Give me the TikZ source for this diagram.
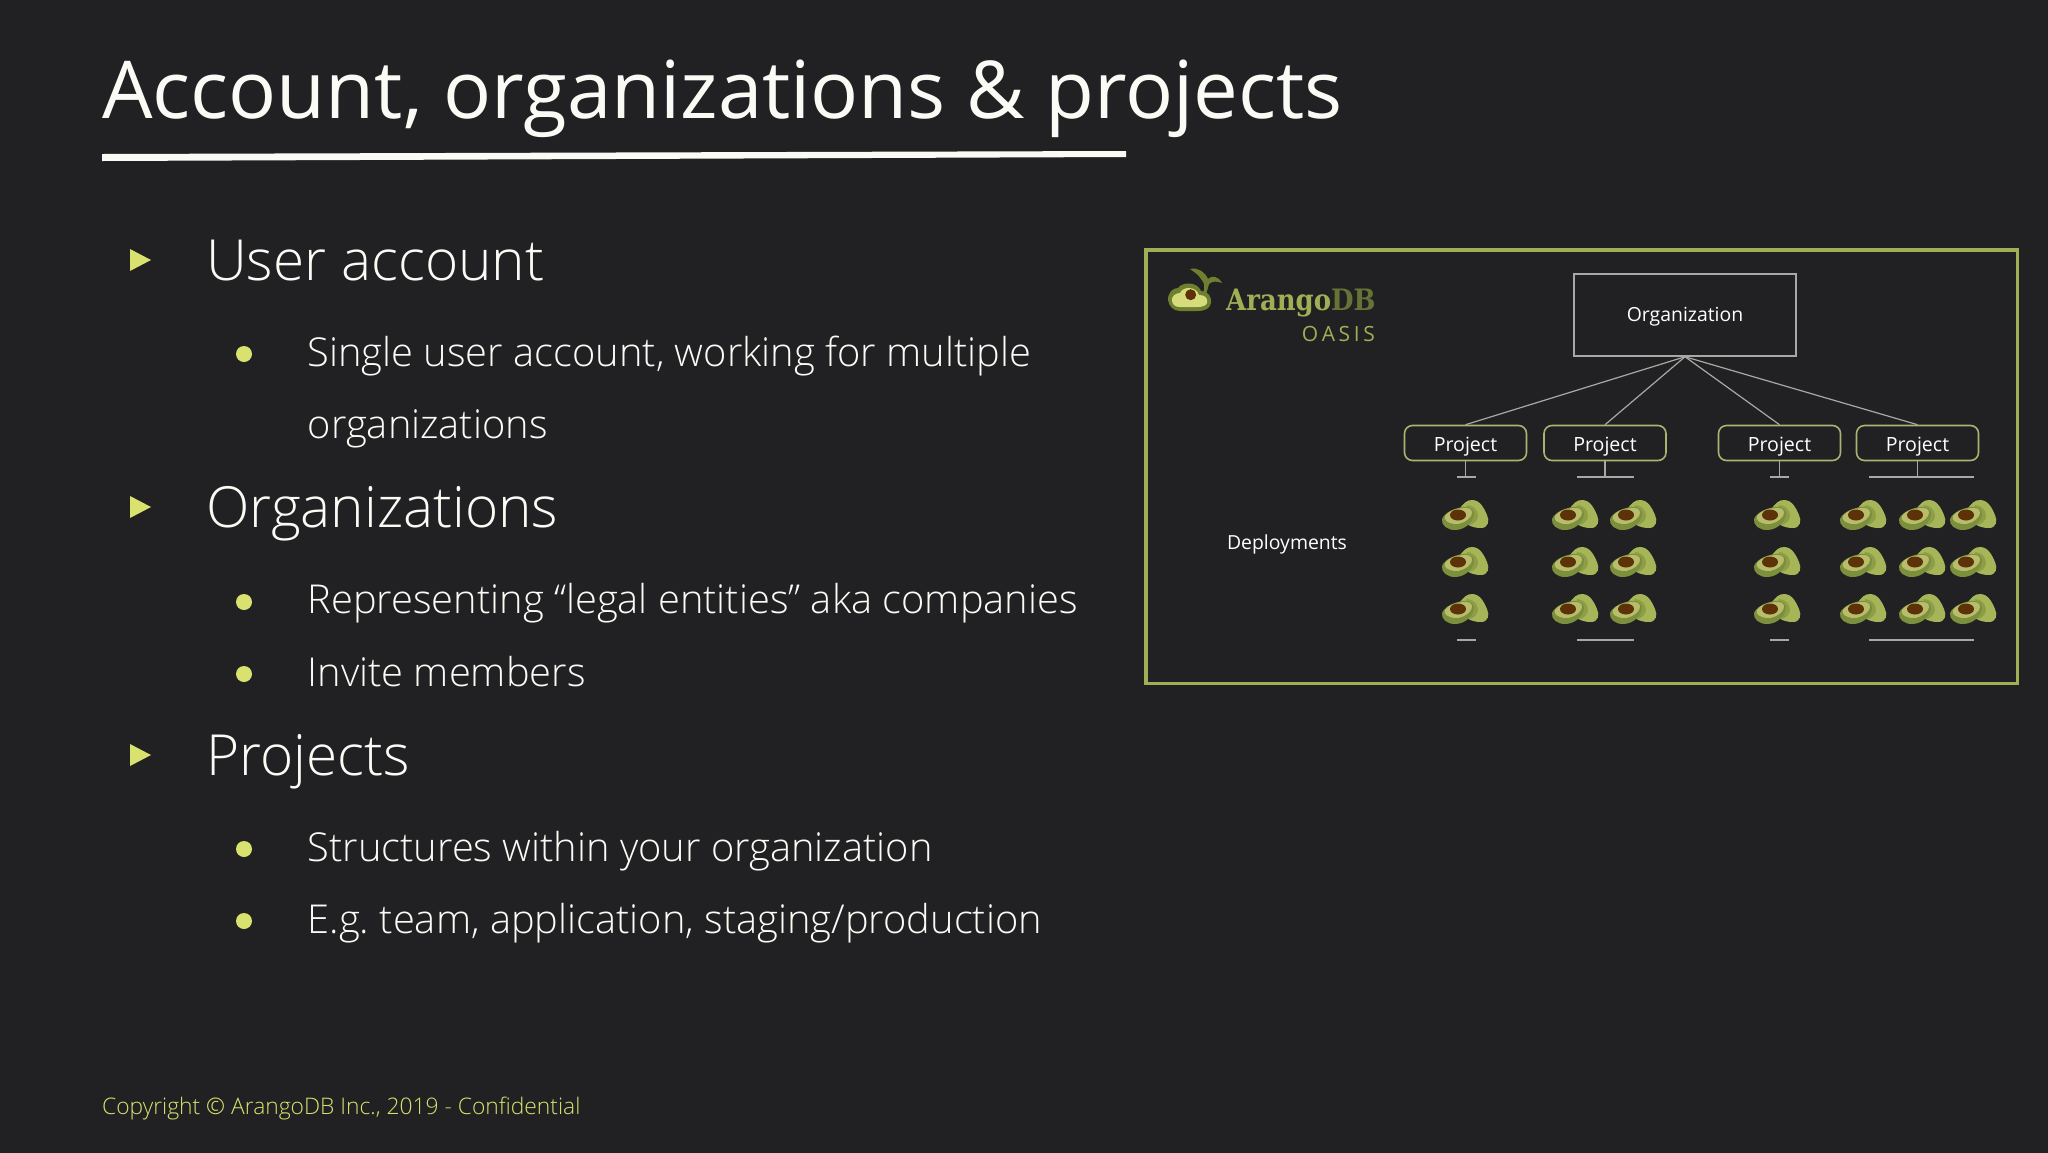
\documentclass[tikz,border=0pt]{standalone}
\usepackage{fontspec}
\setmainfont{Open Sans}
\newfontfamily\lightfont{Open Sans Light}
\newfontfamily\logofont[FakeStretch=0.88]{DejaVu Serif}
\definecolor{slidebg}{HTML}{212123}
\definecolor{titlewhite}{HTML}{FBFBF6}
\definecolor{bulletgreen}{HTML}{D9E26E}
\definecolor{framegreen}{HTML}{A0AF54}
\definecolor{boxgreen}{HTML}{A9B470}
\definecolor{avoskin}{HTML}{7C8F3C}
\definecolor{avoback}{HTML}{A5B558}
\definecolor{avoflesh}{HTML}{B8BD6C}
\definecolor{logoflesh}{HTML}{D6DC7C}
\definecolor{logoskin}{HTML}{6E7F30}
\definecolor{avopit}{HTML}{5E3208}
\definecolor{stemgrey}{HTML}{A8A8A4}
\tikzset{
  headtext/.style={anchor=base west,inner sep=0pt,font=\lightfont\fontsize{56.7}{56.7}\selectfont,text=titlewhite},
  subtext/.style={anchor=base west,inner sep=0pt,font=\lightfont\frenchspacing\fontsize{39.8}{39.8}\selectfont,text=titlewhite},
  smalltext/.style={inner sep=0pt,font=\fontsize{19.4}{19.4}\selectfont,text=white},
  projectbox/.style={draw=boxgreen,line width=1.6pt,rounded corners=8pt,minimum width=122pt,minimum height=35pt,inner sep=0pt,text height=16pt,text depth=0pt,font=\fontsize{19.6}{19.6}\selectfont,text=white},
  stem/.style={draw=stemgrey,line width=1.5pt},
  avocado/.pic={
    \fill[avoback] (-6,-5) .. controls (-2,-12) and (2,-15) .. (7,-15) .. controls (15,-15) and (19,-7) .. (22,0) .. controls (25,6) and (23,13) .. (16,13) .. controls (11,13) and (6,12) .. (2,9) -- cycle;
    \fill[avoskin!60!avoback] (2,-10) .. controls (8,-10) and (13,-5) .. (13,1) .. controls (13,5) and (9,9) .. (5,10) -- (0,0) -- cycle;
    \fill[avoskin] (-23,4) .. controls (-20,-3) and (-10,-7) .. (-2,-8) .. controls (5,-9) and (10,-5) .. (9,0) .. controls (8,7) and (0,15) .. (-10,15) .. controls (-18,15) and (-24,10) .. (-23,4) -- cycle;
    \fill[avoflesh] (-20,1) .. controls (-16,-5) and (-6,-7) .. (1,-7) .. controls (7,-7) and (8,-3) .. (6,1) .. controls (3,6) and (-5,10) .. (-11,9) .. controls (-17,8) and (-22,5) .. (-20,1) -- cycle;
    \fill[avopit] (-7,0) ellipse (8 and 5.5);
  }
}
\begin{document}
\begin{tikzpicture}[x=1pt,y=-1pt]
  \useasboundingbox (0,0) rectangle (2048,1152);
  \fill[slidebg] (-2,-2) rectangle (2050,1154);

  % title
  \node[anchor=base west,inner sep=0pt,font=\fontsize{79.8}{79.8}\selectfont,text=titlewhite] (title) at (102,118) {Account, organizations \& projects};
  \fill[titlewhite] (102,154) -- (1126,151) -- (1126,157) -- (102,161) -- cycle;

  % left column
  \foreach \ypos in {260,507,755}{
    \fill[bulletgreen] (130,\ypos-11) -- (151,\ypos) -- (130,\ypos+11) -- cycle;
  }
  \foreach \ypos in {354,602,674,849,921}{
    \fill[bulletgreen] (244,\ypos) circle (8);
  }
  \node[headtext] (useracc) at (206,280) {User account};
  \node[headtext] (organis) at (206,527.5) {Organizations};
  \node[headtext] (projects) at (206,775) {Projects};
  \node[subtext] (single) at (307.5,366) {Single user account, working for multiple};
  \node[subtext] (single2) at (307.5,438) {organizations};
  \node[subtext] (legal) at (307.5,613) {Representing “legal entities” aka companies};
  \node[subtext] (invite) at (307.5,686) {Invite members};
  \node[subtext] (struct) at (307.5,861) {Structures within your organization};
  \node[subtext] (team) at (307.5,933) {E.g. team, application, staging/production};

  % footer
  \node[anchor=base west,inner sep=0pt,font=\lightfont\fontsize{22.8}{22.8}\selectfont,text=bulletgreen] (copy) at (102,1114) {Copyright © ArangoDB Inc., 2019 - Confidential};

  % frame
  \draw[framegreen,line width=3.5pt] (1146,250) rectangle (2017.5,683.5);

  % logo
  \fill[logoskin] (1168,300) .. controls (1168,292) and (1173,288) .. (1178,288) .. controls (1182,282) and (1197,281) .. (1201,291) .. controls (1208,291) and (1212,297) .. (1211,303) .. controls (1210,309) and (1204,311) .. (1198,311) -- (1180,311) .. controls (1173,311) and (1169,306) .. (1168,300) -- cycle;
  \fill[logoflesh] (1172,301) .. controls (1171,296) and (1176,293) .. (1180,293) .. controls (1183,286) and (1196,286) .. (1199,295) .. controls (1205,295) and (1208,298) .. (1207,303) .. controls (1206,306) and (1202,307) .. (1197,307) -- (1180,307) .. controls (1175,307) and (1173,305) .. (1172,301) -- cycle;
  \fill[avopit] (1190.7,294.7) circle (5.5);
  \fill[logoskin] (1203,293) .. controls (1205,288) and (1205,283) .. (1201,279) .. controls (1198,274) and (1194,272) .. (1190,269) .. controls (1198,267) and (1205,272) .. (1208,279) .. controls (1212,275) and (1218,276) .. (1222,283) .. controls (1217,281) and (1212,281) .. (1209,284) .. controls (1208,288) and (1207,291) .. (1206,294) -- cycle;
  \node[anchor=base west,inner sep=0pt,font=\logofont\bfseries\fontsize{29.5}{29.5}\selectfont] (logo) at (1226,310) {\textcolor{framegreen}{Arango}\textcolor{avoskin!75!slidebg}{DB}};
  \node[anchor=base east,inner sep=0pt,font=\fontsize{21}{21}\selectfont,text=framegreen] (oasis) at (1375,341) {O\kern3.6pt A\kern3.6pt S\kern3.6pt I\kern3.6pt S};
  \node[smalltext] (deploy) at (1287,544.5) {Deployments};

  % tree
  \node[draw=stemgrey,line width=1.5pt,minimum width=222pt,minimum height=82pt,inner sep=0pt,text height=13pt,text depth=0pt,font=\fontsize{19.4}{19.4}\selectfont,text=white] (org) at (1685,315) {Organization};
  \node[projectbox] (p1) at (1465.5,443) {Project};
  \node[projectbox] (p2) at (1605,443) {Project};
  \node[projectbox] (p3) at (1779.5,443) {Project};
  \node[projectbox] (p4) at (1917.5,443) {Project};
  \foreach \proj in {p1,p2,p3,p4}{
    \draw[stem,line width=1.2pt] (org.south) -- (\proj.north);
  }
  \coordinate (b1) at (1466.5,477);
  \coordinate (b2) at (1605.5,477);
  \coordinate (b3) at (1779.5,477);
  \coordinate (b4) at (1921.5,477);
  \foreach \proj/\bar/\half in {p1/b1/9.5,p2/b2/28.5,p3/b3/9.5,p4/b4/52.5}{
    \draw[stem] (\proj.south) -- (\proj.south |- \bar);
    \draw[stem] ([xshift=-\half pt]\bar) -- ([xshift=\half pt]\bar);
    \draw[stem] ([xshift=-\half pt,yshift=-163pt]\bar) -- ([xshift=\half pt,yshift=-163pt]\bar);
  }

  % deployments
  \foreach \ypos in {515,562,609}{
    \foreach \xpos in {1465,1575,1633,1777,1863,1922,1973}{
      \pic at (\xpos,\ypos) {avocado};
    }
  }
\end{tikzpicture}
\end{document}
